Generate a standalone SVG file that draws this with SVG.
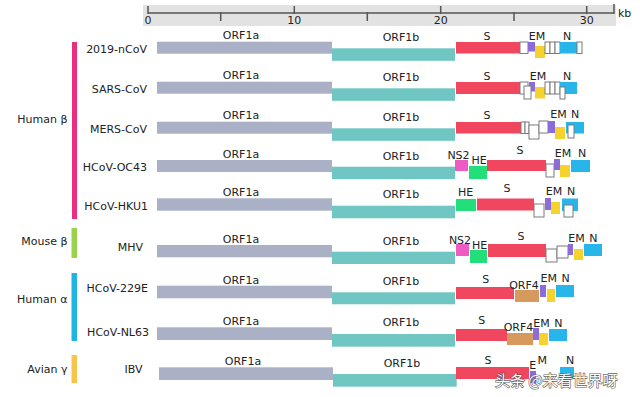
<svg xmlns="http://www.w3.org/2000/svg" width="640" height="397" viewBox="0 0 640 397">
<style>
text{font-family:"DejaVu Sans","Liberation Sans",sans-serif;font-size:11px;fill:#222}
.m{text-anchor:middle}
.r{text-anchor:end}
.a{fill:#aab1c6}
.b{fill:#6fc6c3}
.s{fill:#f0475f}
.p{fill:#8b6cd8}
.y{fill:#f6d22f}
.n{fill:#28b6ea}
.ns{fill:#ec5cc2}
.he{fill:#23df7a}
.o4{fill:#d69a5c}
.w{fill:#fff;stroke:#7a7a7a;stroke-width:1}
.tk{stroke:#555;stroke-width:1.5;fill:none}
.wm{font-family:"Noto Sans CJK SC","DejaVu Sans",sans-serif;font-size:15px;fill:#fff;stroke:#555;stroke-width:1.2;paint-order:stroke;opacity:0.92}
</style>

<g id="ruler">
<rect x="143" y="5" width="473" height="21" fill="#e2e2e2"/>
<path class="tk" d="M148 13H614M148 6V14M294.3 6V14M440.7 6V14M586.7 6V14M614 4V14M220.7 12V21M367.3 12V21M514 12V21"/>
<text class="m" x="148" y="24">0</text>
<text class="m" x="294.3" y="24">10</text>
<text class="m" x="440.7" y="24">20</text>
<text class="m" x="586.7" y="24">30</text>
<text x="618" y="17">kb</text>
</g>

<g id="group-human-beta">
<rect x="72" y="42" width="5" height="177" fill="#e8307f"/>
<text class="r" x="67.5" y="123">Human β</text>
</g>
<g id="group-mouse-beta">
<rect x="71.5" y="228" width="5.5" height="30" fill="#9bd24b"/>
<text class="r" x="67.5" y="244.5">Mouse β</text>
</g>
<g id="group-human-alpha">
<rect x="71.5" y="273" width="5.5" height="68" fill="#1fb5e0"/>
<text class="r" x="67.5" y="303">Human α</text>
</g>
<g id="group-avian-gamma">
<rect x="71.5" y="355" width="5.5" height="28" fill="#f8c54c"/>
<text class="r" x="67.5" y="373">Avian γ</text>
</g>

<g id="row-2019-nCoV">
<text class="r" x="147" y="52.5">2019-nCoV</text>
<rect class="a" x="157" y="41.7" width="175" height="12"/>
<rect class="b" x="332" y="48.3" width="123" height="12.5"/>
<text class="m" x="241" y="39.3">ORF1a</text>
<text class="m" x="401" y="40.5">ORF1b</text>
<rect class="s" x="456" y="42" width="64" height="11.5"/>
<rect class="w" x="520" y="42" width="8" height="11.5"/>
<rect class="p" x="528" y="42" width="7" height="9.5"/>
<rect class="y" x="535" y="46" width="10" height="12"/>
<rect class="w" x="545" y="42" width="5" height="11.5"/>
<rect class="w" x="550" y="42" width="5" height="11.5"/>
<rect class="w" x="555" y="42" width="5" height="11.5"/>
<rect class="n" x="560" y="42" width="17" height="11.5"/>
<rect class="w" x="577" y="42" width="5" height="11.5"/>
<text class="m" x="487" y="40">S</text>
<text class="m" x="537" y="40">EM</text>
<text class="m" x="567" y="40">N</text>
</g>

<g id="row-SARS-CoV">
<text class="r" x="147" y="92.7">SARS-CoV</text>
<rect class="a" x="157" y="81.7" width="175" height="12"/>
<rect class="b" x="332" y="88.3" width="123" height="12.5"/>
<text class="m" x="241" y="79.3">ORF1a</text>
<text class="m" x="401" y="80.5">ORF1b</text>
<rect class="s" x="456" y="82" width="64" height="12"/>
<rect class="w" x="520" y="82" width="8" height="12"/>
<rect class="p" x="529" y="82" width="6" height="9.5"/>
<rect class="w" x="524" y="86" width="7" height="13"/>
<rect class="y" x="535" y="87" width="10" height="11.5"/>
<rect class="w" x="545" y="82" width="5" height="12"/>
<rect class="w" x="550" y="82" width="5" height="12"/>
<rect class="w" x="555" y="82" width="5" height="12"/>
<rect class="n" x="560" y="82" width="17" height="12"/>
<rect class="w" x="560" y="87" width="5" height="12"/>
<text class="m" x="487" y="80">S</text>
<text class="m" x="538" y="80">EM</text>
<text class="m" x="567" y="80">N</text>
</g>

<g id="row-MERS-CoV">
<text class="r" x="147" y="132.7">MERS-CoV</text>
<rect class="a" x="157" y="121.7" width="175" height="12"/>
<rect class="b" x="332" y="128.3" width="123" height="12.5"/>
<text class="m" x="241" y="119.3">ORF1a</text>
<text class="m" x="401" y="120.5">ORF1b</text>
<rect class="s" x="456" y="122" width="65" height="11.5"/>
<rect class="w" x="521" y="122" width="4" height="11.5"/>
<rect class="w" x="525" y="122" width="4" height="11.5"/>
<rect class="w" x="529" y="125" width="10" height="14"/>
<rect class="w" x="539" y="121" width="9" height="12"/>
<rect class="p" x="548" y="121" width="7" height="12"/>
<rect class="y" x="555" y="127" width="10" height="12"/>
<rect class="n" x="566" y="122" width="18" height="11.5"/>
<rect class="w" x="568" y="125" width="6" height="13"/>
<text class="m" x="487" y="118.5">S</text>
<text class="m" x="558.5" y="118">EM</text>
<text class="m" x="575" y="118">N</text>
</g>

<g id="row-HCoV-OC43">
<text class="r" x="147" y="171">HCoV-OC43</text>
<rect class="a" x="157" y="160" width="175" height="12"/>
<rect class="b" x="332" y="166.7" width="123" height="12.5"/>
<text class="m" x="241" y="158">ORF1a</text>
<text class="m" x="401" y="159.5">ORF1b</text>
<rect class="ns" x="455" y="160" width="13" height="11"/>
<rect class="he" x="469" y="166" width="18" height="13"/>
<rect class="s" x="487" y="160" width="59" height="11"/>
<rect class="w" x="546" y="164" width="8" height="13"/>
<rect class="p" x="554" y="159" width="6" height="11"/>
<rect class="y" x="560" y="165" width="10" height="12"/>
<rect class="n" x="571" y="160" width="19" height="12"/>
<text class="m" x="458.5" y="159">NS2</text>
<text class="m" x="479" y="164">HE</text>
<text class="m" x="520" y="154">S</text>
<text class="m" x="563" y="156.5">EM</text>
<text class="m" x="582" y="156.5">N</text>
</g>

<g id="row-HCoV-HKU1">
<text class="r" x="148" y="209.5">HCoV-HKU1</text>
<rect class="a" x="157" y="198.3" width="175" height="12.4"/>
<rect class="b" x="332" y="205.7" width="123" height="12.6"/>
<text class="m" x="241" y="196.3">ORF1a</text>
<text class="m" x="401" y="197.5">ORF1b</text>
<rect class="he" x="456" y="199" width="20" height="12"/>
<rect class="s" x="477" y="198.5" width="57" height="12"/>
<rect class="w" x="534" y="204" width="10" height="13"/>
<rect class="p" x="545" y="198" width="6" height="12"/>
<rect class="y" x="551" y="202" width="9" height="12"/>
<rect class="n" x="562" y="198.5" width="16" height="12.5"/>
<rect class="w" x="564" y="205" width="9" height="12"/>
<text class="m" x="465.5" y="195.5">HE</text>
<text class="m" x="507" y="192">S</text>
<text class="m" x="554" y="195">EM</text>
<text class="m" x="571" y="195">N</text>
</g>

<g id="row-MHV">
<text class="r" x="143" y="251">MHV</text>
<rect class="a" x="157" y="245" width="175" height="12.3"/>
<rect class="b" x="332" y="251.7" width="123" height="12.3"/>
<text class="m" x="241" y="242.5">ORF1a</text>
<text class="m" x="401" y="245">ORF1b</text>
<rect class="ns" x="456" y="244" width="13" height="12"/>
<rect class="he" x="470" y="250" width="17" height="13"/>
<rect class="s" x="488" y="244" width="58" height="13"/>
<rect class="w" x="546" y="249" width="11" height="13"/>
<rect class="w" x="557" y="246" width="11" height="12"/>
<rect class="p" x="568" y="244" width="5" height="11"/>
<rect class="y" x="574" y="249" width="9" height="11"/>
<rect class="n" x="584" y="244" width="18" height="12"/>
<text class="m" x="460" y="244">NS2</text>
<text class="m" x="479.5" y="249">HE</text>
<text class="m" x="521" y="240">S</text>
<text class="m" x="576.5" y="241.5">EM</text>
<text class="m" x="593.3" y="241.5">N</text>
</g>

<g id="row-HCoV-229E">
<text class="r" x="148" y="292">HCoV-229E</text>
<rect class="a" x="157" y="285.7" width="175" height="12.6"/>
<rect class="b" x="332" y="292.3" width="123" height="12"/>
<text class="m" x="241" y="283.5">ORF1a</text>
<text class="m" x="401" y="284.5">ORF1b</text>
<rect class="s" x="456" y="287" width="58" height="12"/>
<rect class="o4" x="515" y="290" width="24" height="12"/>
<rect class="p" x="540" y="285" width="6" height="12"/>
<rect class="y" x="547" y="289" width="8" height="13"/>
<rect class="n" x="556" y="285" width="18" height="12"/>
<text class="m" x="485.7" y="282.7">S</text>
<text class="m" x="524" y="289">ORF4</text>
<text class="m" x="548.7" y="281.5">EM</text>
<text class="m" x="565.7" y="281.5">N</text>
</g>

<g id="row-HCoV-NL63">
<text class="r" x="149" y="335.7">HCoV-NL63</text>
<rect class="a" x="157" y="327.3" width="175" height="12.7"/>
<rect class="b" x="332" y="334" width="123" height="12.7"/>
<text class="m" x="241" y="324.5">ORF1a</text>
<text class="m" x="401" y="326">ORF1b</text>
<rect class="s" x="456" y="329" width="51" height="12"/>
<rect class="o4" x="507" y="333" width="26" height="12"/>
<rect class="p" x="533" y="328" width="6" height="12"/>
<rect class="y" x="539" y="333" width="9" height="12"/>
<rect class="n" x="549" y="329" width="18" height="12"/>
<text class="m" x="481.7" y="324">S</text>
<text class="m" x="518.5" y="331">ORF4</text>
<text class="m" x="541.5" y="326.5">EM</text>
<text class="m" x="558.3" y="326.5">N</text>
</g>

<g id="row-IBV">
<text class="r" x="142.5" y="373">IBV</text>
<rect class="a" x="159" y="367.3" width="174" height="12.7"/>
<rect class="b" x="333" y="374" width="123.7" height="12.7"/>
<text class="m" x="243" y="365">ORF1a</text>
<text class="m" x="402" y="366.5">ORF1b</text>
<rect class="s" x="456" y="367" width="73" height="12"/>
<rect class="p" x="530" y="371" width="6" height="12"/>
<rect class="n" x="560" y="367" width="14" height="12"/>
<text class="m" x="488" y="364">S</text>
<text class="m" x="532.7" y="368.5">E</text>
<text class="m" x="542.3" y="363.5">M</text>
<text class="m" x="570" y="364">N</text>
</g>

<text class="wm" x="495" y="386">头条 @来看世界呀</text>
</svg>
